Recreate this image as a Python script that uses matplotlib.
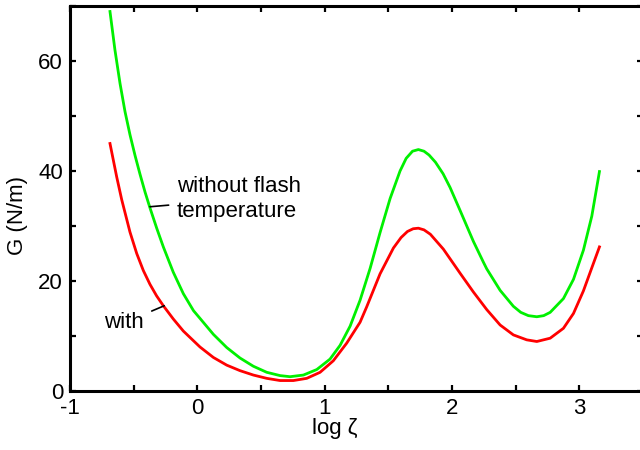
import matplotlib
matplotlib.use("Agg")
import matplotlib.pyplot as plt
from matplotlib.ticker import MultipleLocator

plt.rcParams['font.family'] = ['Liberation Sans', 'DejaVu Sans']
plt.rcParams['axes.unicode_minus'] = False

# "without flash temperature" (green)
x_without = [-0.686, -0.647, -0.607, -0.568, -0.529, -0.489, -0.450, -0.411, -0.372, -0.319,
             -0.267, -0.189, -0.110, -0.030, 0.021, 0.126, 0.231, 0.335, 0.440, 0.545,
             0.650, 0.728, 0.833, 0.938, 1.042, 1.121, 1.200, 1.278, 1.357, 1.435,
             1.514, 1.592, 1.640, 1.690, 1.736, 1.780, 1.820, 1.870, 1.930, 1.985,
             2.064, 2.116, 2.168, 2.247, 2.273, 2.378, 2.482, 2.540, 2.600, 2.666,
             2.720, 2.771, 2.875, 2.954, 3.032, 3.098, 3.158]
g_without = [69.0, 62.0, 55.9, 50.8, 46.6, 42.8, 39.4, 36.2, 33.3, 29.6,
             26.2, 21.6, 17.7, 14.6, 13.2, 10.3, 7.9, 6.0, 4.5, 3.4,
             2.8, 2.6, 2.9, 3.9, 5.8, 8.3, 11.8, 16.5, 22.3, 28.8,
             35.0, 40.0, 42.3, 43.6, 43.9, 43.6, 42.9, 41.6, 39.5, 37.0,
             32.8, 30.0, 27.2, 23.4, 22.2, 18.3, 15.4, 14.3, 13.7, 13.5,
             13.7, 14.3, 16.8, 20.3, 25.6, 31.8, 39.9]

# "with" flash temperature (red)
x_with = [-0.686, -0.633, -0.594, -0.529, -0.476, -0.424, -0.372, -0.320, -0.267, -0.189,
          -0.110, 0.021, 0.126, 0.231, 0.335, 0.440, 0.545, 0.650, 0.754, 0.859,
          0.964, 1.068, 1.173, 1.278, 1.330, 1.435, 1.540, 1.600, 1.650, 1.695,
          1.736, 1.780, 1.830, 1.932, 2.037, 2.064, 2.168, 2.273, 2.378, 2.482,
          2.587, 2.666, 2.771, 2.875, 2.954, 3.032, 3.098, 3.158]
g_with = [45.0, 38.9, 34.8, 28.9, 25.0, 21.9, 19.4, 17.3, 15.5, 13.1,
          10.9, 8.0, 6.1, 4.7, 3.7, 2.9, 2.3, 1.9, 1.9, 2.3,
          3.4, 5.5, 8.7, 12.5, 15.3, 21.3, 26.0, 27.9, 29.0, 29.5,
          29.6, 29.3, 28.5, 25.8, 22.3, 21.4, 18.0, 14.8, 12.0, 10.2,
          9.3, 9.0, 9.6, 11.4, 14.1, 18.2, 22.4, 26.2]

x_ticks = [-1, 0, 1, 2, 3]
x_ticklabels = ['-1', '0', '1', '2', '3']
y_ticks = [0, 20, 40, 60]

fig = plt.figure(figsize=(6.4, 4.5), dpi=100)
ax = fig.add_axes([70/640, 59/450, 573/640, 385/450])

ax.plot(x_without, g_without, color='#00f000', lw=2.0, solid_joinstyle='round')
ax.plot(x_with, g_with, color='#ff0000', lw=2.0, solid_joinstyle='round')

ax.set_xlim(-1, 3.5)
ax.set_ylim(0, 70)
ax.set_xticks(x_ticks)
ax.set_xticklabels(x_ticklabels)
ax.set_yticks(y_ticks)
ax.xaxis.set_minor_locator(MultipleLocator(0.5))
ax.yaxis.set_minor_locator(MultipleLocator(10))

for s in ax.spines.values():
    s.set_linewidth(2.2)
ax.tick_params(which='both', direction='in', top=True, right=True,
               length=4, width=1.6, labelsize=16, pad=5)

ax.text(0.462, -0.098, 'log ζ', transform=ax.transAxes, ha='center', va='center', fontsize=16)
ax.text(-0.091, 0.457, 'G (N/m)', transform=ax.transAxes, ha='center', va='center',
        rotation=90, fontsize=16)

# annotations
ax.annotate('without flash\ntemperature', xy=(-0.372, 33.5), xytext=(-0.16, 34.9),
            fontsize=16, ha='left', va='center', linespacing=1.2,
            arrowprops=dict(arrowstyle='-', color='black', lw=1.2, shrinkA=4, shrinkB=0))
ax.annotate('with', xy=(-0.26, 15.5), xytext=(-0.42, 12.4),
            fontsize=16, ha='right', va='center',
            arrowprops=dict(arrowstyle='-', color='black', lw=1.2, shrinkA=4, shrinkB=0))

fig.savefig('out.png', dpi=100)
